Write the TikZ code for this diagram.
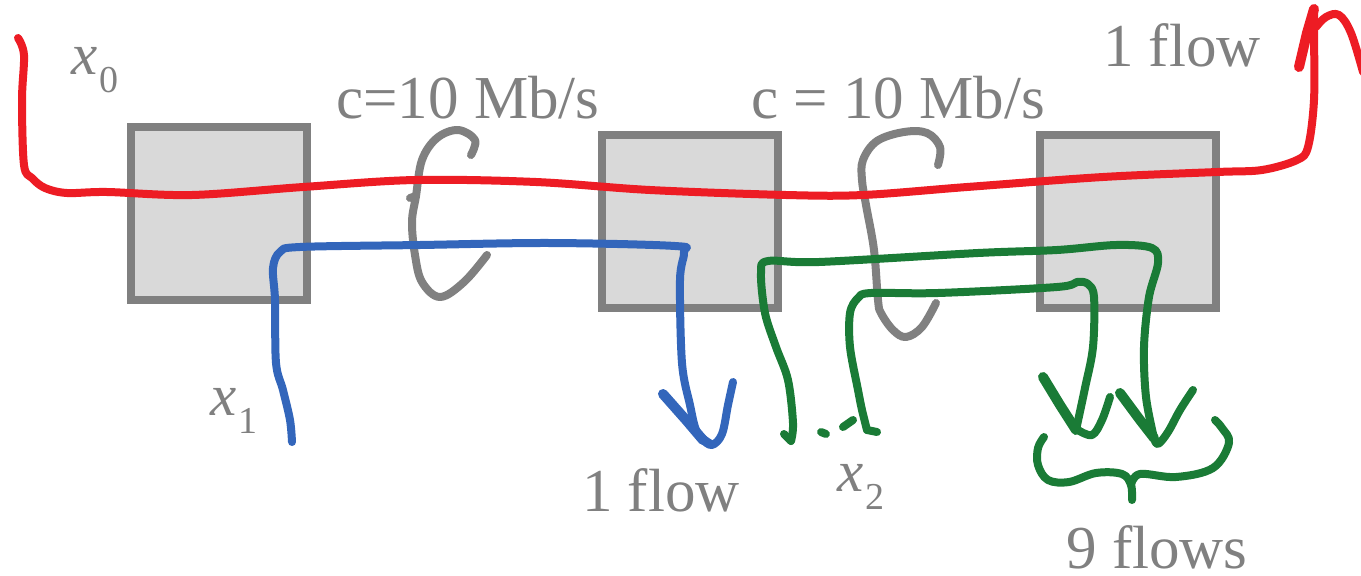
\documentclass[tikz,border=0pt]{standalone}
\usepackage{fontspec}
\setmainfont{Liberation Serif}
\definecolor{rd}{HTML}{ED1C24}
\definecolor{bl}{HTML}{3366BB}
\definecolor{gr}{HTML}{1A7B36}
\definecolor{gy}{HTML}{808080}
\definecolor{fl}{HTML}{D9D9D9}
\newcommand{\varx}[1]{{\fontsize{59}{64}\selectfont\itshape x}\kern2pt\raisebox{-18pt}{\fontsize{38}{40}\selectfont #1}}
\begin{document}
\begin{tikzpicture}[x=1pt,y=-1pt,
  router/.style={draw=gy,fill=fl,line width=8pt,minimum width=176pt,minimum height=173pt,inner sep=0pt},
  lbl/.style={text=gy,inner sep=0pt,font=\fontsize{61}{70}\selectfont},
  pen/.style={line width=8pt,line cap=round,line join=round},
  penb/.style={line width=10pt,line cap=round,line join=round}]
\useasboundingbox (0,0) rectangle (1361,576);
\fill[white] (0,0) rectangle (1361,576);
% routers
\node[router] (r1) at (219,213.5) {};
\node[router] (r2) at (690,221.5) {};
\node[router] (r3) at (1128,221.5) {};
% labels
\node[lbl] (x0) at (95,70.5) {\varx{0}};
\node[lbl] (c1) at (468,98) {c=10 Mb/s};
\node[lbl] (c2) at (898,98) {c = 10 Mb/s};
\node[lbl] (f0) at (1182,45) {1 flow};
\node[lbl] (x1) at (234,411) {\varx{1}};
\node[lbl] (f1) at (661,490) {1 flow};
\node[lbl] (x2) at (861,487) {\varx{2}};
\node[lbl] (f9) at (1157,547) {9 flows};
% gray brackets
\draw[pen,gy] plot[smooth,tension=0.6] coordinates {(471,155) (475,140) (458,130) (437,138) (422,160) (416,196) (412,222) (415,255) (422,282) (440,297) (464,282) (487,255)};
\draw[pen,gy] (416,196) -- (410,198);
\draw[pen,gy] plot[smooth,tension=0.6] coordinates {(938,165) (940,147) (927,133) (904,132) (877,141) (863,160) (862,180) (866,205) (874,250) (878,300) (881,313) (893,330) (906,337) (922,327) (936,303)};
% red flow
\coordinate (rs) at (18,38);
\coordinate (rt) at (1314,9);
\draw[pen,rd] plot[smooth,tension=0.55] coordinates {(rs) (24,55) (22,100) (24,165) (32,178) (45,188) (67,193) (107,192) (192,195) (303,187) (415,180) (536,182) (650,190) (786,195) (863,195) (967,187) (1103,177) (1217,172) (1262,170) (1297,160) (1308,147) (1314,100) (1314,33) (rt)};
\draw[penb,rd] (1299,67) -- (1307,33) -- (rt);
\draw[pen,rd] plot[smooth,tension=0.6] coordinates {(1316,27) (1326,17) (1339,15) (1351,33) (1363,72)};
% blue flow
\coordinate (bs) at (292,442);
\coordinate (bt) at (711,444);
\draw[pen,bl] plot[smooth,tension=0.55] coordinates {(bs) (290,420) (283,390) (276,363) (275,300) (273,268) (280,252) (300,247) (420,245) (550,243) (675,246) (684,252) (680,280) (682,363) (690,405) (697,432) (bt)};
\draw[penb,bl] (663,394) -- (686,420) -- (703,440);
\draw[pen,bl] plot[smooth,tension=0.6] coordinates {(703,440) (712,445) (722,434) (728,405) (733,382)};
% green outer flow
\coordinate (gs1) at (791,441);
\coordinate (gt1) at (1154,438);
\draw[pen,gr] (784,434) -- (gs1);
\draw[pen,gr] plot[smooth,tension=0.55] coordinates {(gs1) (793,423) (788,380) (776,347) (765,313) (761,273) (768,261) (819,262) (978,253) (1057,250) (1116,245) (1152,248) (1158,263) (1149,297) (1144,347) (1146,397) (gt1)};
\draw[penb,gr] (1120,393) -- (1140,420) -- (1154,438);
\draw[pen,gr] plot[smooth,tension=0.6] coordinates {(1154,438) (1158,444) (1168,432) (1180,410) (1193,390)};
% green inner flow
\coordinate (gs2) at (867,430);
\coordinate (gt2) at (1076,430);
\draw[pen,gr] (gs2) -- (877,432);
\draw[pen,gr] plot[smooth,tension=0.55] coordinates {(gs2) (862,410) (858,390) (850,347) (850,313) (858,298) (871,293) (938,293) (1057,287) (1077,282) (1088,284) (1094,297) (1093,347) (1085,388) (gt2)};
\draw[penb,gr] (1043,377) -- (1060,405) -- (gt2);
\draw[pen,gr] plot[smooth,tension=0.6] coordinates {(1078,430) (1092,435) (1102,420) (1110,397)};
% dots
\draw[pen,gr] (821,432) -- (826,434);
\draw[pen,gr] (843,427) -- (853,420);
% green brace
\draw[pen,gr] plot[smooth,tension=0.6] coordinates {(1044,437) (1038,448) (1038,465) (1048,480) (1069,482) (1096,473) (1122,474) (1131,485) (1132,500)};
\draw[pen,gr] plot[smooth,tension=0.6] coordinates {(1131,485) (1140,474) (1176,477) (1213,468) (1229,443) (1222,428) (1215,420)};
\end{tikzpicture}
\end{document}
